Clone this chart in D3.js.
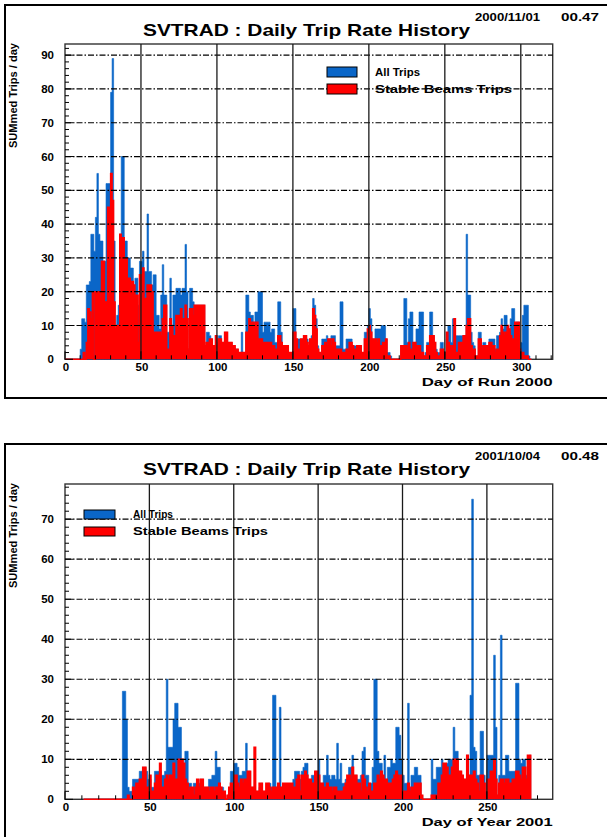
<!DOCTYPE html>
<html>
<head>
<meta charset="utf-8">
<script src="https://cdn.jsdelivr.net/npm/d3@7"></script>
<style>
  body { margin: 0; background: #fff; }
  svg { display: block; }
  text { font-family: "Liberation Sans", Arial, Helvetica, sans-serif; font-weight: bold; fill: #000; }
</style>
</head>
<body>
<svg id="canvas" width="607" height="837"></svg>
<script>
// ---- Run 2000: daily SVTRAD trips, one value per day starting at run2000Start ----
const run2000Start = 0;
const run2000All = [
  0,0,0,0,0,0,0,0,0,0,
  3,12,12,11,22,22,23,37,37,32,
  42,55,37,35,35,29,29,52,52,52,
  79,89,35,9,13,16,37,60,60,35,
  35,30,30,27,27,22,24,24,16,29,
  29,32,26,26,43,26,26,22,25,25,
  13,13,9,19,28,19,19,8,8,24,
  10,19,19,21,21,21,19,21,21,34,
  20,3,21,21,17,16,16,16,16,16,
  16,16,4,8,8,7,6,4,4,7,
  5,7,7,5,5,8,8,5,5,5,
  4,4,3,3,2,2,8,2,2,19,
  19,14,13,13,11,14,14,20,20,20,
  8,11,11,11,11,8,9,9,5,5,
  17,17,8,4,4,4,4,2,2,1,
  15,15,6,6,6,6,6,7,7,6,
  4,6,7,18,16,12,4,2,2,6,
  6,6,7,6,6,7,7,7,4,4,
  4,17,17,3,3,6,6,6,6,4,
  4,4,4,4,4,2,2,8,8,10,
  15,12,6,6,9,9,9,9,10,10,
  10,6,2,2,1,0,0,0,0,0,
  0,4,4,18,18,5,12,14,14,5,
  5,9,9,14,14,14,1,2,5,5,
  14,14,7,5,3,2,2,5,5,2,
  2,6,10,10,5,12,10,7,7,7,
  7,7,7,7,37,19,19,8,5,4,
  1,1,8,8,4,5,5,4,4,6,
  6,6,6,3,7,7,8,12,9,13,
  13,6,9,12,15,15,7,11,11,3,
  5,13,16,16,16,1,0
];
const run2000Stable = [
  0,0,0,0,0,0,0,0,0,0,
  0,0,2,0,5,15,14,12,20,0,
  20,20,20,18,29,29,17,17,45,45,
  55,47,17,9,10,10,37,36,36,30,
  30,24,24,23,23,22,19,19,5,25,
  25,27,18,18,22,22,22,20,8,8,
  8,8,8,7,12,16,16,3,3,12,
  10,7,7,13,13,13,15,12,12,16,
  12,3,15,15,13,16,16,16,16,16,
  16,16,4,5,5,6,6,4,4,7,
  4,6,6,5,5,8,8,5,5,5,
  4,4,3,3,2,2,2,2,2,8,
  8,12,11,11,10,11,11,6,6,6,
  5,5,5,5,5,5,4,4,3,3,
  7,7,5,4,4,4,4,2,2,1,
  8,8,6,3,2,6,6,7,7,5,
  4,6,6,15,13,9,3,2,1,4,
  4,5,4,6,6,4,6,5,3,3,
  3,3,2,2,2,3,3,5,5,4,
  3,3,4,4,4,2,2,6,6,9,
  10,8,6,6,6,5,6,4,4,5,
  5,6,1,1,0,0,0,0,0,0,
  0,4,4,4,4,3,5,3,3,5,
  5,4,4,4,2,2,1,1,4,4,
  7,7,7,5,2,1,1,3,3,2,
  2,8,5,4,3,4,12,2,2,5,
  5,5,7,7,10,12,12,4,3,3,
  1,1,6,6,3,4,4,4,4,5,
  5,4,4,2,3,3,7,10,8,7,
  8,10,9,7,6,6,11,11,11,3,
  2,2,1,1,1,0,0
];
const run2000XTicks = [0, 50, 100, 150, 200, 250, 300];
const run2000YTicks = [0, 10, 20, 30, 40, 50, 60, 70, 80, 90];

// ---- Year 2001: daily SVTRAD trips, one value per day starting at year2001Start ----
const year2001Start = 11;
const year2001All = [
  0,0,0,0,0,0,0,0,0,0,
  0,0,0,0,0,0,0,0,0,0,
  0,0,0,
  27,27,20,3,2,2,
  5,5,5,5,7,7,8,8,7,5,
  5,3,3,7,7,7,7,6,6,7,
  30,13,13,13,20,24,24,18,18,10,
  4,12,12,4,4,1,4,4,4,4,
  5,5,3,3,3,5,5,6,6,12,
  8,8,3,3,0,0,1,2,7,7,
  9,9,8,6,6,7,7,14,7,7,
  3,3,2,2,2,3,4,2,2,1,
  4,4,3,26,26,3,3,23,3,2,
  2,2,3,3,3,5,7,7,7,5,
  7,8,9,9,5,4,6,6,7,7,
  10,4,4,6,6,11,6,5,6,6,
  5,14,5,9,4,4,5,4,8,8,
  11,6,6,5,5,6,12,13,6,6,
  4,4,8,30,30,12,9,9,4,11,
  5,8,8,10,9,9,18,18,16,10,
  6,4,4,24,3,6,6,8,8,6,
  6,1,0,0,0,0,0,10,5,5,
  8,8,8,10,7,7,9,10,10,10,
  18,12,12,7,7,6,5,5,11,6,
  26,75,13,12,6,6,17,17,6,2,
  11,11,11,11,36,18,1,6,41,6,
  6,11,11,7,7,7,7,29,29,10,
  9,10,10,6,10,11
];
const year2001Stable = [
  0,0,0,0,0,0,0,0,0,0,
  0,0,0,0,0,0,0,0,0,0,
  0,0,0,
  0,0,0,1,0,0,
  3,2,4,4,5,5,8,8,3,3,
  6,2,2,4,6,6,9,3,3,5,
  6,5,6,6,9,5,5,10,10,10,
  9,5,4,2,3,3,1,3,5,3,
  5,5,3,3,3,2,3,3,2,3,
  3,4,3,2,2,0,1,3,4,4,
  6,6,4,3,5,4,5,5,7,7,
  3,3,13,2,2,4,4,2,2,4,
  4,3,2,3,3,3,4,3,3,4,
  4,4,4,4,4,3,3,5,6,2,
  6,6,7,6,5,5,4,4,7,7,
  6,4,4,3,3,4,3,3,2,3,
  3,2,2,2,2,3,4,6,6,5,
  8,6,6,4,4,2,6,5,3,2,
  4,2,2,4,4,6,5,7,6,5,
  5,4,4,4,5,6,7,6,5,6,
  2,2,2,4,2,3,3,4,4,4,
  4,1,0,0,0,0,0,1,1,1,
  1,4,4,6,9,9,8,6,6,8,
  10,10,10,7,7,6,5,5,11,6,
  6,6,7,5,4,2,6,6,4,1,
  5,5,7,7,10,5,1,4,5,5,
  4,5,5,4,4,5,5,7,7,6,
  5,8,8,5,11,11
];
const year2001XTicks = [0, 50, 100, 150, 200, 250];
const year2001YTicks = [0, 10, 20, 30, 40, 50, 60, 70];

const chartTitle = "SVTRAD : Daily Trip Rate History";
const seriesNames = ["All Trips", "Stable Beams Trips"];
const seriesColors = ["#0a66c8", "#ff0000"];

const panels = [
  {
    start: run2000Start, all: run2000All, stable: run2000Stable,
    xTicks: run2000XTicks, yTicks: run2000YTicks, xMax: 321, yMax: 93.3,
    date: "2000/11/01", time: "00.47", xTitle: "Day of Run 2000",
    box: { x: 5, y: 5, h: 393 },
    plot: { left: 65, right: 552.7, top: 44, bottom: 359.3 },
    titleY: 36, dateY: 21, xLabelY: 371, xTitleY: 385.5,
    legend: { box: 327, text: 375, y: [67, 84], w: 30, h: 10, tw: [45, 137] }
  },
  {
    start: year2001Start, all: year2001All, stable: year2001Stable,
    xTicks: year2001XTicks, yTicks: year2001YTicks, xMax: 289, yMax: 78.8,
    date: "2001/10/04", time: "00.48", xTitle: "Day of Year 2001",
    box: { x: 5, y: 444, h: 500 },
    plot: { left: 65, right: 552.7, top: 484, bottom: 799.3 },
    titleY: 475, dateY: 460, xLabelY: 811, xTitleY: 825.5,
    legend: { box: 84, text: 133, y: [510, 527], w: 31, h: 9, tw: [40, 135] }
  }
];

const svg = d3.select("#canvas");

function drawPanel(p) {
  const g = svg.append("g");
  const P = p.plot;

  // pad border
  g.append("rect")
    .attr("x", p.box.x).attr("y", p.box.y)
    .attr("width", 700).attr("height", p.box.h)
    .attr("fill", "none").attr("stroke", "#000").attr("stroke-width", 2);

  const x = d3.scaleLinear().domain([0, p.xMax]).range([P.left, P.right]);
  const y = d3.scaleLinear().domain([0, p.yMax]).range([P.bottom, P.top]);

  const toBins = vals => {
    const pts = vals.map((v, i) => ({ d: p.start + i, v }));
    pts.push({ d: p.start + vals.length, v: 0 });
    return pts;
  };
  const area = d3.area().curve(d3.curveStepAfter)
    .x(b => x(b.d)).y0(y(0)).y1(b => y(b.v));
  const outline = d3.line().curve(d3.curveStepAfter)
    .x(b => x(b.d)).y(b => y(b.v));

  const allBins = toBins(p.all);
  const stableBins = toBins(p.stable);

  // frame
  g.append("rect")
    .attr("x", P.left).attr("y", P.top)
    .attr("width", P.right - P.left).attr("height", P.bottom - P.top)
    .attr("fill", "none").attr("stroke", "#333").attr("stroke-width", 1.4);

  // histograms: all trips behind, stable-beam trips in front
  g.append("path").attr("d", area(allBins))
    .attr("fill", seriesColors[0]).attr("stroke", seriesColors[0]).attr("stroke-width", 0.6);
  g.append("path").attr("d", area(stableBins))
    .attr("fill", seriesColors[1]).attr("stroke", "none");
  g.append("path").attr("d", outline(stableBins))
    .attr("fill", "none").attr("stroke", seriesColors[1]).attr("stroke-width", 1.4);

  // grid
  g.selectAll(null).data(p.yTicks.filter(t => t > 0)).enter().append("line")
    .attr("x1", P.left).attr("x2", P.right)
    .attr("y1", d => y(d)).attr("y2", d => y(d))
    .attr("stroke", "#000").attr("stroke-width", 1.2)
    .attr("stroke-dasharray", "6,2,1.5,2");
  g.selectAll(null).data(p.xTicks.filter(t => t > 0)).enter().append("line")
    .attr("x1", d => x(d)).attr("x2", d => x(d))
    .attr("y1", P.top).attr("y2", P.bottom)
    .attr("stroke", "#1a1a1a").attr("stroke-width", 1.3);

  // y axis ticks (major every 10, minor every 2)
  g.selectAll(null).data(d3.range(0, p.yMax, 2)).enter().append("line")
    .attr("x1", P.left).attr("x2", d => P.left + (d % 10 === 0 ? 8 : 4))
    .attr("y1", d => y(d)).attr("y2", d => y(d))
    .attr("stroke", "#000").attr("stroke-width", 1);
  // x axis ticks (major every 50, minor every 10)
  g.selectAll(null).data(d3.range(0, p.xMax, 10)).enter().append("line")
    .attr("x1", d => x(d)).attr("x2", d => x(d))
    .attr("y1", P.bottom).attr("y2", d => P.bottom - (d % 50 === 0 ? 8 : 4))
    .attr("stroke", "#000").attr("stroke-width", 1);

  // tick labels
  g.selectAll(null).data(p.yTicks).enter().append("text")
    .attr("x", P.left - 11).attr("y", d => y(d)).attr("dy", "0.36em")
    .attr("text-anchor", "end").attr("font-size", 11.5)
    .text(d => d);
  g.selectAll(null).data(p.xTicks).enter().append("text")
    .attr("x", d => x(d) + 1).attr("y", p.xLabelY)
    .attr("text-anchor", "middle").attr("font-size", 11.5)
    .text(d => d);

  // axis titles
  g.append("text")
    .attr("x", P.right).attr("y", p.xTitleY)
    .attr("text-anchor", "end").attr("font-size", 11.5)
    .attr("textLength", 131).attr("lengthAdjust", "spacingAndGlyphs")
    .text(p.xTitle);
  g.append("text")
    .attr("transform", `translate(16.5,${P.top - 1}) rotate(-90)`)
    .attr("text-anchor", "end").attr("font-size", 10.5)
    .attr("textLength", 105).attr("lengthAdjust", "spacingAndGlyphs")
    .text("SUMmed Trips / day");

  // title and time stamp
  g.append("text")
    .attr("x", 143).attr("y", p.titleY).attr("font-size", 17)
    .attr("textLength", 327).attr("lengthAdjust", "spacingAndGlyphs")
    .text(chartTitle);
  g.append("text")
    .attr("x", 475).attr("y", p.dateY).attr("font-size", 10)
    .attr("textLength", 65).attr("lengthAdjust", "spacingAndGlyphs")
    .text(p.date);
  g.append("text")
    .attr("x", 561).attr("y", p.dateY).attr("font-size", 10)
    .attr("textLength", 38).attr("lengthAdjust", "spacingAndGlyphs")
    .text(p.time);

  // legend
  const L = p.legend;
  seriesNames.forEach((name, i) => {
    g.append("rect")
      .attr("x", L.box).attr("y", L.y[i]).attr("width", L.w).attr("height", L.h)
      .attr("fill", seriesColors[i]).attr("stroke", "#000").attr("stroke-width", 1);
    g.append("text")
      .attr("x", L.text).attr("y", L.y[i] + L.h / 2).attr("dy", "0.36em")
      .attr("font-size", 10.5)
      .attr("textLength", L.tw[i]).attr("lengthAdjust", "spacingAndGlyphs")
      .text(name);
  });
}

panels.forEach(drawPanel);
</script>
</body>
</html>
